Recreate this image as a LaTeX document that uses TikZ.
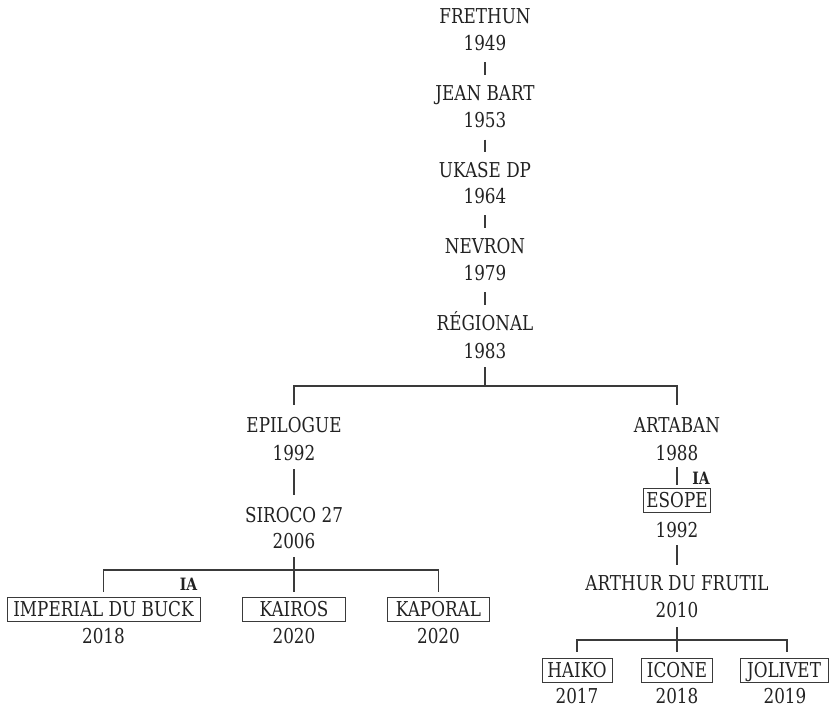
\documentclass[tikz,border=0pt]{standalone}
\usepackage{fontspec}
\setmainfont{DejaVu Serif}[FakeStretch=0.82]
\usepackage{tikz}

\definecolor{ink}{HTML}{222222}
\definecolor{linegray}{HTML}{3A3A3A}

\tikzset{
  horse/.style={anchor=base, inner sep=0pt, text height=15pt, text depth=0pt, text=ink, font=\fontsize{20.5}{24}\selectfont},
  boxed/.style={horse, draw=linegray, line width=1pt, inner xsep=3pt, inner ysep=4.5pt},
  ia/.style={anchor=base, inner sep=0pt, text=ink, font=\fontsize{17}{20}\selectfont\bfseries},
  link/.style={draw=linegray, line width=1.3pt},
  tick/.style={link, shorten <=12pt, shorten >=10pt}
}

\begin{document}
\begin{tikzpicture}[x=1pt, y=-1pt]
			%%%%% START %%%%%
			\useasboundingbox (0, 0) rectangle (836, 707);
			
			% main line
			\node[horse] (frethun) at (485, 23.5) {FRETHUN};
			\node[horse] (frethunY) at (485, 50) {1949};
			\node[horse] (jeanbart) at (485, 100) {JEAN BART};
			\node[horse] (jeanbartY) at (485, 127.5) {1953};
			\node[horse] (ukase) at (485, 177) {UKASE DP};
			\node[horse] (ukaseY) at (485, 203) {1964};
			\node[horse] (nevron) at (485, 253) {NEVRON};
			\node[horse] (nevronY) at (485, 280) {1979};
			\node[horse] (regional) at (485, 330) {RÉGIONAL};
			\node[horse] (regionalY) at (485, 358) {1983};
			
			% left branch
			\node[horse] (epilogue) at (294, 432) {EPILOGUE};
			\node[horse] (epilogueY) at (294, 460) {1992};
			\node[horse] (siroco) at (294, 522) {SIROCO 27};
			\node[horse] (sirocoY) at (294, 548) {2006};
			
			\node[boxed, minimum width=193pt] (imperial) at (103.5, 616.5) {IMPERIAL DU BUCK};
			\node[horse] (imperialY) at (103.5, 643) {2018};
			\node[boxed, minimum width=103pt] (kairos) at (294, 616.5) {KAIROS};
			\node[horse] (kairosY) at (294, 643) {2020};
			\node[boxed, minimum width=102pt] (kaporal) at (438.5, 616.5) {KAPORAL};
			\node[horse] (kaporalY) at (438.5, 643) {2020};
			\node[ia] (iaLeft) at (188.5, 590) {IA};
			
			% right branch
			\node[horse] (artaban) at (677, 432) {ARTABAN};
			\node[horse] (artabanY) at (677, 460) {1988};
			\node[boxed, minimum width=63pt] (esope) at (677, 507.5) {ESOPE};
			\node[horse] (esopeY) at (677, 537) {1992};
			\node[ia] (iaRight) at (701, 484) {IA};
			\node[horse] (arthur) at (677, 590) {ARTHUR DU FRUTIL};
			\node[horse] (arthurY) at (677, 617) {2010};
			
			\node[boxed, minimum width=70pt] (haiko) at (577, 677.5) {HAIKO};
			\node[horse] (haikoY) at (577, 703) {2017};
			\node[boxed, minimum width=71pt] (icone) at (677, 677.5) {ICONE};
			\node[horse] (iconeY) at (677, 703) {2018};
			\node[boxed, minimum width=88pt] (jolivet) at (784, 677.5) {JOLIVET};
			\node[horse] (jolivetY) at (785, 703) {2019};
			
			\coordinate (forkTop) at (485, 386);
			\coordinate (forkLeft) at (294, 570);
			\coordinate (forkRight) at (677, 640);
			
			% connectors
			\draw[tick] (frethunY) -- (jeanbart);
			\draw[tick] (jeanbartY) -- (ukase);
			\draw[tick] (ukaseY) -- (nevron);
			\draw[tick] (nevronY) -- (regional);
			\draw[link, shorten <=9pt] (regionalY) -- (forkTop);
			\draw[link, shorten <=12pt, shorten >=12pt] (epilogue.north) |- (forkTop) -| (artaban.north);
			
			\draw[link, shorten <=9pt, shorten >=12pt] (epilogueY) -- (siroco);
			\draw[link, shorten <=9pt] (sirocoY) -- (forkLeft);
			\draw[link, shorten <=5pt, shorten >=5pt] (imperial.north) |- (forkLeft) -| (kaporal.north);
			\draw[link, shorten <=5pt] (kairos) -- (forkLeft);
			
			\draw[link, shorten <=7pt, shorten >=3pt] (artabanY) -- (esope);
			\draw[link, shorten <=8pt, shorten >=10pt] (esopeY) -- (arthur);
			\draw[link, shorten <=10pt] (arthurY) -- (forkRight);
			\draw[link, shorten <=6pt, shorten >=6pt] (haiko.north) |- (forkRight) -| ([xshift=3pt]jolivet.north);
			\draw[link, shorten <=6pt] (icone) -- (forkRight);
			%%%%% END %%%%%
\end{tikzpicture}
\end{document}
